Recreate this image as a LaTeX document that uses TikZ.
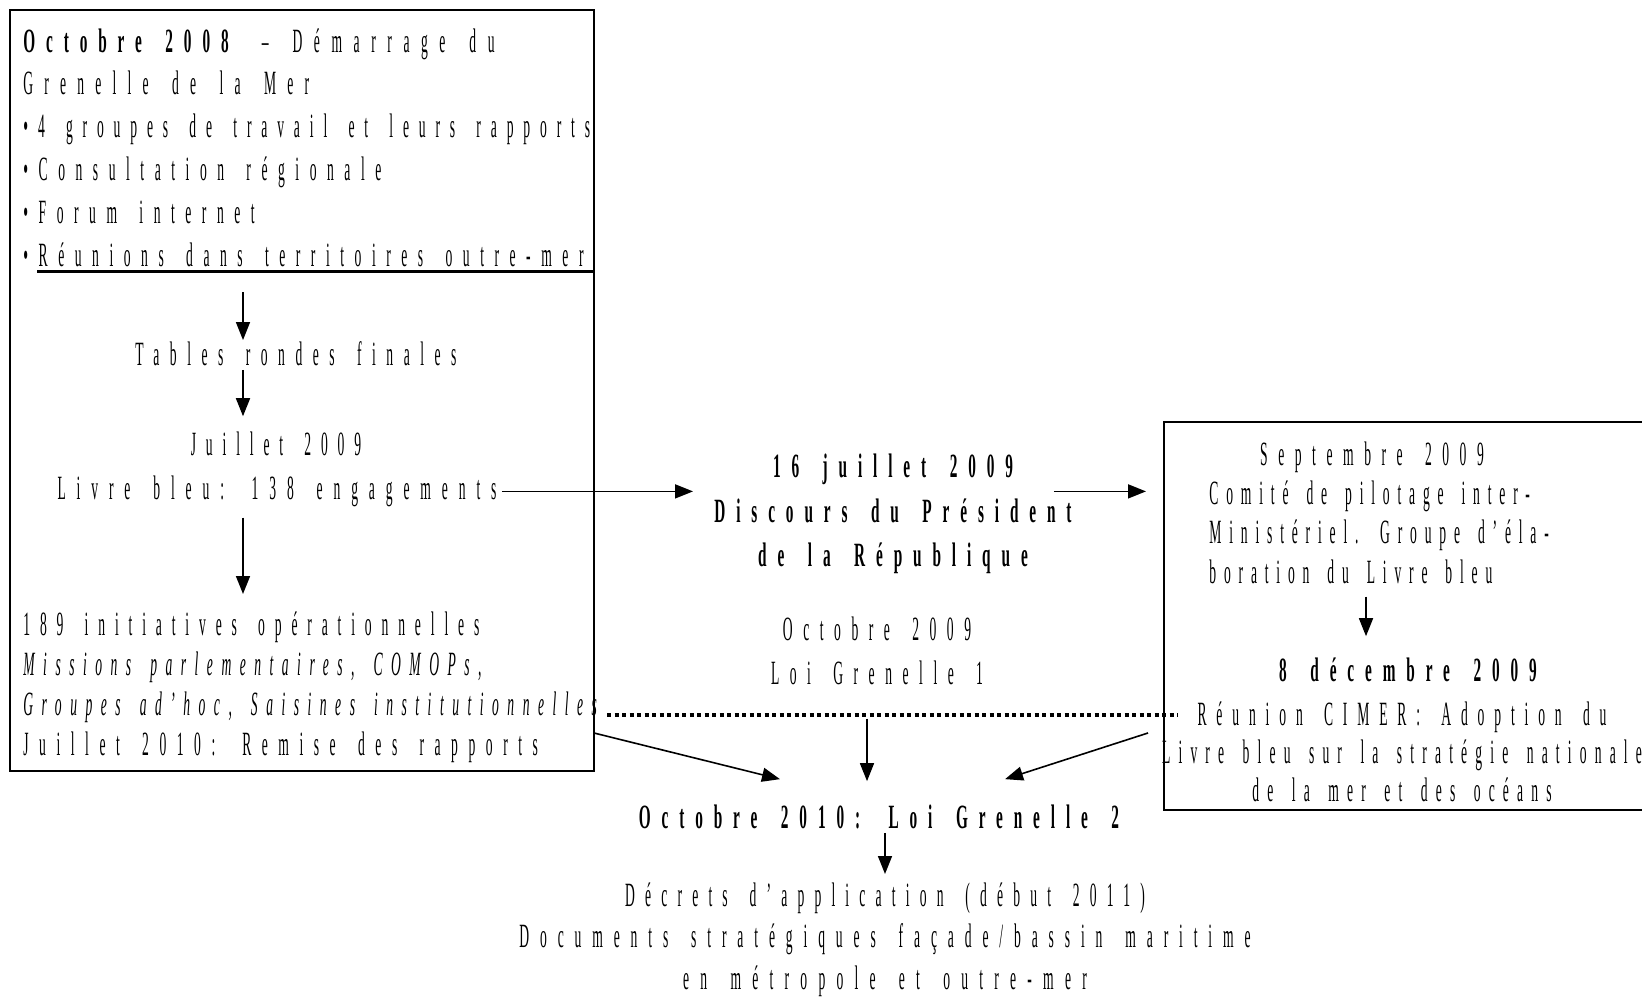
\documentclass[tikz,border=0pt]{standalone}
\usepackage{fontspec}
\setmainfont{Liberation Serif}[
  FakeStretch=0.4, LetterSpace=31, WordSpace=1.6,
  BoldFeatures={FakeStretch=0.45, LetterSpace=32},
  ItalicFeatures={LetterSpace=25},
]
\newcommand{\serre}[1]{\addfontfeature{LetterSpace=#1}}
\usepackage{tikz}
\usetikzlibrary{positioning, arrows.meta}

\begin{document}
\begin{tikzpicture}[
  x=0.5pt, y=-0.5pt,
  every node/.style={
    inner sep=0pt,
    font=\fontsize{17}{21.4}\selectfont,
  },
  bloc/.style={align=left, anchor=north west},
  centre/.style={align=center, anchor=north},
  cadre/.style={draw, line width=1pt},
  fleche/.style={-{Triangle[length=9pt, width=7pt]}, line width=0.8pt},
  pointille/.style={line width=2pt, dash pattern=on 2pt off 1.75pt},
]
  \useasboundingbox (0,0) rectangle (1642,999);

  % les deux cadres
  \node[cadre, minimum width=292pt, minimum height=380.5pt] (gauche) at (302,390.5) {};
  \node[cadre, minimum width=248pt, minimum height=194pt] (droite) at (1412,616) {};

  % cadre de gauche
  \node[bloc] (titre) at (23,28)
  {
    \textbf{Octobre 2008} {\serre{34}– Démarrage du}\\
    {\serre{33}Grenelle de la Mer}\\
    {\serre{29}•4 groupes de travail et leurs rapports}\\
    •Consultation régionale\\
    •Forum internet\\
    •Réunions dans territoires outre-mer
  };
  \draw[line width=1.5pt] (37,272) -- (594,272);
  \node (tables) at (296,354) {Tables rondes finales};
  \node[font=\fontsize{17}{21.4}\selectfont\serre{29}] (juil09) at (276,444) {Juillet 2009};
  \node[font=\fontsize{17}{21.4}\selectfont\serre{32}] (livre) at (277,491.4) {Livre bleu: 138 engagements};
  \node[bloc, font=\fontsize{17}{20}\selectfont] (initiatives) at (23,611)
  {
    {\serre{29}189 initiatives opérationnelles}\\
    \textit{Missions parlementaires, COMOPs,}\\
    \textit{Groupes ad’hoc, Saisines institutionnelles}\\
    Juillet 2010: Remise des rapports
  };

  % milieu
  \node[centre, font=\bfseries\fontsize{17}{22.25}\selectfont] (discours) at (893,454)
  {
    16 juillet 2009\\
    Discours du Président\\
    de la République
  };
  \node[centre, font=\fontsize{17}{22}\selectfont] (loi1) at (877,617)
  {
    Octobre 2009\\
    Loi Grenelle 1
  };

  % cadre de droite
  \node (sept) at (1372,457) {Septembre 2009};
  \node[bloc, font=\fontsize{17}{19.75}\selectfont\serre{23}] (comite) at (1209,480)
  {
    Comité de pilotage inter-\\
    Ministériel. Groupe d’éla-\\
    boration du Livre bleu
  };
  \node[font=\bfseries\fontsize{17}{20}\selectfont] (dec8) at (1408,670) {8 décembre 2009};
  \node[centre, font=\fontsize{17}{19}\selectfont] (cimer) at (1402,701)
  {
    {\serre{29}Réunion CIMER: Adoption du}\\
    {\serre{24}Livre bleu sur la stratégie nationale}\\
    {\serre{24}de la mer et des océans}
  };

  % bas
  \node[font=\bfseries\fontsize{17}{20}\selectfont] (loi2) at (879,817) {Octobre 2010: Loi Grenelle 2};
  \node[centre, font=\fontsize{17}{20.75}\selectfont] (decrets) at (885,882)
  {
    {\serre{30}Décrets d’application (début 2011)}\\
    {\serre{32}Documents stratégiques façade/bassin maritime}\\
    {\serre{33}en métropole et outre-mer}
  };

  % fleches
  \coordinate (axe) at (243,0);
  \coordinate (depart) at (594,733);
  \draw[fleche, shorten <=12.8pt, shorten >=0.7pt] (titre.south -| axe) -- (tables.north -| axe);
  \draw[fleche, shorten <=1.7pt, shorten >=7.7pt] (tables.south -| axe) -- (juil09.north -| axe);
  \draw[fleche, shorten <=5.2pt, shorten >=8.5pt] (livre.south -| axe) -- (initiatives.north -| axe);
  \draw[fleche, shorten <=2.5pt, shorten >=10.5pt] (livre.east) -- (livre.east -| discours.west);
  \draw[fleche, shorten <=-9pt, shorten >=8.5pt] (livre.east -| discours.east) -- (livre.east -| droite.west);
  \draw[fleche, shorten <=6.4pt, shorten >=10.7pt]
    ([xshift=-21pt]dec8.north |- comite.south) -- ([xshift=-21pt]dec8.north);
  \draw[pointille] (607,715) -- (1178,715);
  \draw[fleche] (depart) -- ([xshift=-49.5pt, yshift=12.7pt]loi2.north);
  \draw[fleche, shorten <=16.4pt, shorten >=11.7pt]
    ([xshift=-5pt]loi1.south) -- ([xshift=-5pt]loi1.south |- loi2.north);
  \draw[fleche] ([xshift=-7.5pt]droite.west |- depart) -- ([xshift=63pt, yshift=12.7pt]loi2.north);
  \draw[fleche, shorten <=1.7pt, shorten >=4pt]
    ([xshift=3pt]loi2.south) -- ([xshift=3pt]loi2.south |- decrets.north);
\end{tikzpicture}
\end{document}
